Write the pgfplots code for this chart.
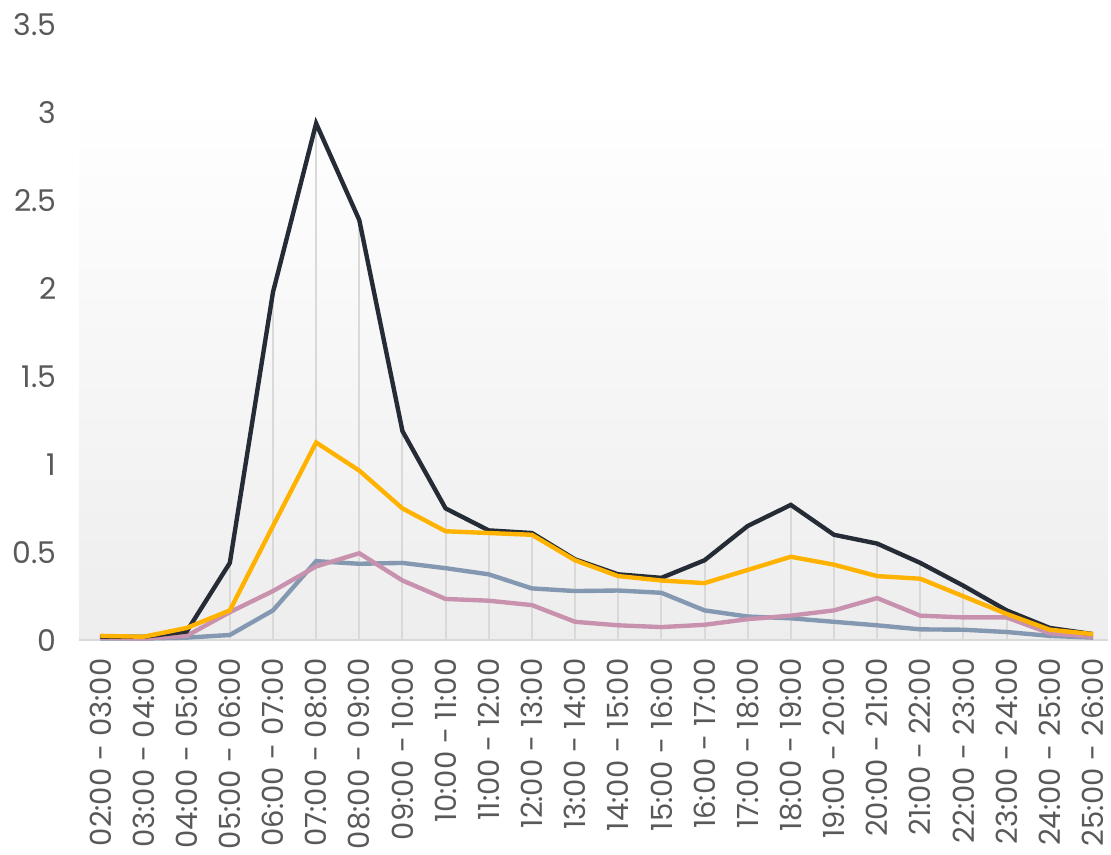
\documentclass[border=0pt]{standalone}
\usepackage{pgfplots}
\pgfplotsset{compat=1.18}
\usepackage{fontspec}
\setmainfont{Poppins}
\definecolor{cdark}{HTML}{252C35}
\definecolor{cyel}{HTML}{FFB300}
\definecolor{cblue}{HTML}{8598B1}
\definecolor{cpink}{HTML}{C892AF}
\definecolor{cgrid}{HTML}{D9D9D9}
\definecolor{ctext}{HTML}{595959}
\begin{document}
\begin{tikzpicture}
\begin{axis}[
  set layers,
  scale only axis,
  width=516pt, height=308.5pt,
  xmin=-0.5, xmax=23.35, ymin=0, ymax=3.5,
  axis lines*=left,
  y axis line style={draw=none},
  x axis line style={draw=cgrid, line width=1pt, -},
  major tick length=0pt,
  ytick={0,0.5,1,1.5,2,2.5,3,3.5},
  xtick={0,...,23},
  xticklabels={02:00 - 03:00,03:00 - 04:00,04:00 - 05:00,05:00 - 06:00,06:00 - 07:00,07:00 - 08:00,08:00 - 09:00,09:00 - 10:00,10:00 - 11:00,11:00 - 12:00,12:00 - 13:00,13:00 - 14:00,14:00 - 15:00,15:00 - 16:00,16:00 - 17:00,17:00 - 18:00,18:00 - 19:00,19:00 - 20:00,20:00 - 21:00,21:00 - 22:00,22:00 - 23:00,23:00 - 24:00,24:00 - 25:00,25:00 - 26:00},
  /pgf/number format/assume math mode=true,
  yticklabel style={font=\fontsize{15}{18}\selectfont, text=ctext, anchor=east, inner sep=0pt, xshift=-11pt},
  xticklabel style={font=\fontsize{14.6}{18}\selectfont, text=ctext, rotate=90, anchor=east, inner sep=0pt},
  xticklabel shift=9pt,
  clip=false,
]
\begin{pgfonlayer}{axis background}
\fill[top color=white, bottom color=black!7] (axis cs:-0.5,0) rectangle (axis cs:23.35,3.06);
\end{pgfonlayer}
% drop lines (max of series)
\addplot[ycomb, draw=cgrid, line width=1pt, mark=none] coordinates {
(0,0.025)(1,0.02)(2,0.07)(3,0.44)(4,1.98)(5,2.94)(6,2.39)(7,1.19)(8,0.75)(9,0.625)(10,0.61)(11,0.46)(12,0.375)(13,0.355)(14,0.455)(15,0.65)(16,0.77)(17,0.60)(18,0.55)(19,0.44)(20,0.31)(21,0.17)(22,0.07)(23,0.035)};
% blue-gray
\addplot[cblue, line width=2.2pt, mark=none] coordinates {
(0,0.01)(1,0.01)(2,0.015)(3,0.03)(4,0.17)(5,0.45)(6,0.435)(7,0.44)(8,0.41)(9,0.375)(10,0.295)(11,0.28)(12,0.283)(13,0.27)(14,0.17)(15,0.135)(16,0.125)(17,0.105)(18,0.085)(19,0.062)(20,0.06)(21,0.047)(22,0.025)(23,0.015)};
% pink
\addplot[cpink, line width=2.2pt, mark=none] coordinates {
(0,0.015)(1,0.01)(2,0.025)(3,0.16)(4,0.28)(5,0.42)(6,0.495)(7,0.34)(8,0.235)(9,0.225)(10,0.2)(11,0.105)(12,0.085)(13,0.075)(14,0.088)(15,0.12)(16,0.14)(17,0.17)(18,0.24)(19,0.14)(20,0.13)(21,0.13)(22,0.04)(23,0.02)};
% dark
\addplot[cdark, line width=2.2pt, mark=none] coordinates {
(0,0.02)(1,0.02)(2,0.05)(3,0.44)(4,1.98)(5,2.94)(6,2.39)(7,1.19)(8,0.75)(9,0.625)(10,0.61)(11,0.46)(12,0.375)(13,0.355)(14,0.455)(15,0.65)(16,0.77)(17,0.60)(18,0.55)(19,0.44)(20,0.31)(21,0.17)(22,0.07)(23,0.035)};
% yellow
\addplot[cyel, line width=2.2pt, mark=none] coordinates {
(0,0.025)(1,0.02)(2,0.07)(3,0.17)(4,0.65)(5,1.125)(6,0.965)(7,0.75)(8,0.62)(9,0.61)(10,0.60)(11,0.455)(12,0.365)(13,0.34)(14,0.325)(15,0.40)(16,0.475)(17,0.43)(18,0.365)(19,0.35)(20,0.25)(21,0.15)(22,0.06)(23,0.035)};
\end{axis}
\pgfresetboundingbox
\path[use as bounding box] (-39.5pt,-107.5pt) rectangle (517.5pt,321pt);
\end{tikzpicture}
\end{document}
